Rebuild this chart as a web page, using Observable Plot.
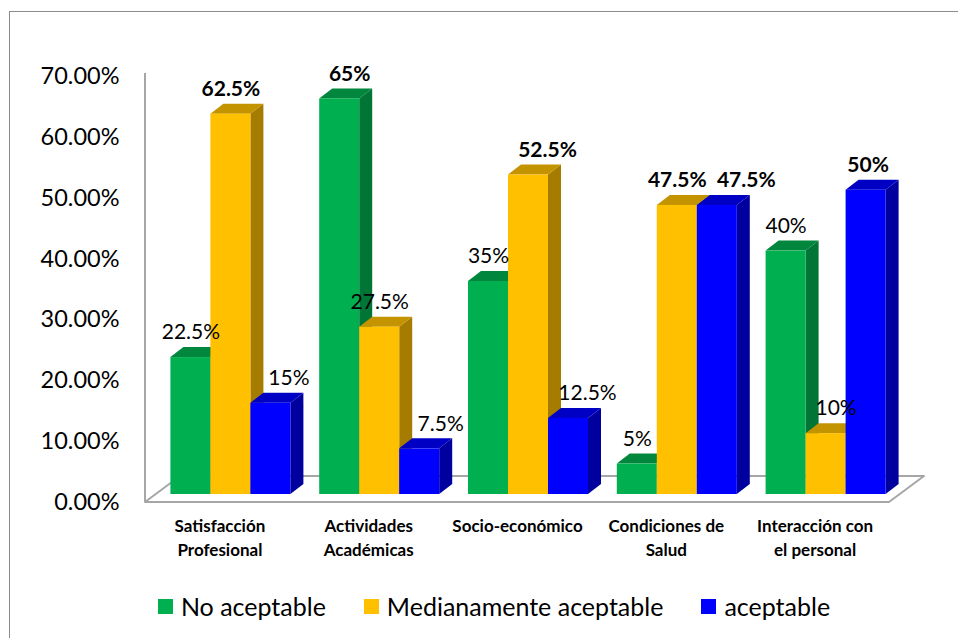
<!DOCTYPE html>
<html>
<head>
<meta charset="utf-8">
<script src="https://cdn.jsdelivr.net/npm/d3@7"></script>
<script src="https://cdn.jsdelivr.net/npm/@observablehq/plot@0.6"></script>
<style>
  html, body { margin: 0; padding: 0; background: #fff; overflow: hidden; }
  #wrap { position: relative; width: 958px; height: 638px; font-family: Lato, "Open Sans", sans-serif; }
  #border { position: absolute; left: 9px; top: 11px; width: 960px; height: 640px;
            border-top: 1px solid #8c8c8c; border-left: 1px solid #8c8c8c; box-sizing: border-box; pointer-events: none; }
  #legend { position: absolute; left: 0; top: 590px; width: 958px; height: 32px;
            display: flex; justify-content: center; align-items: center; padding-left: 30px; box-sizing: border-box;
            font-size: 25px; color: #000; }
  .item { display: flex; align-items: center; margin: 0 19px; }
  .sw { width: 15px; height: 15px; margin-right: 8px; }
</style>
</head>
<body>
<div id="wrap"><div id="border"></div></div>
<script>
// ---- data ----
const categories = ["Satisfacción Profesional", "Actividades Académicas", "Socio-económico", "Condiciones de Salud", "Interacción con el personal"];
const categoryLines = ["Satisfacción\nProfesional", "Actividades\nAcadémicas", "Socio-económico", "Condiciones de\nSalud", "Interacción con\nel personal"];
const series = ["No aceptable", "Medianamente aceptable", "aceptable"];
const noAceptable = [22.5, 65, 35, 5, 40];
const medianamente = [62.5, 27.5, 52.5, 47.5, 10];
const aceptable = [15, 7.5, 12.5, 47.5, 50];
const yTicks = [0, 10, 20, 30, 40, 50, 60, 70];

// ---- style / layout config ----
const frontColors = ["#00B050", "#FFC000", "#0000FF"];
const topColors = ["#00873D", "#C49300", "#0000C4"];
const sideColors = ["#007536", "#A67C00", "#00009E"];
const FRONT_DX = 11, FRONT_DY = -8;   // bars sit in the middle of the floor depth
const DEPTH_DX = 13, DEPTH_DY = -10;  // bar depth
const FLOOR_DX = 35, FLOOR_DY = -26;  // floor depth
// horizontal label nudges (data order: per category, per series) to avoid overlaps
const labelNudge = [0, 0, 18, 10, 0, 21, 0, 19, 19, 0, 0, 29, 0, 10, 2];

const seriesValues = [noAceptable, medianamente, aceptable];
const rows = [];
categories.forEach((c, ci) => {
  const group = seriesValues.map(v => v[ci]);
  const mx = Math.max(...group);
  series.forEach((s, si) => {
    rows.push({cat: c, series: s, si, value: seriesValues[si][ci], bold: seriesValues[si][ci] === mx});
  });
});

function drawFloor(index, scales, values, dims) {
  const g = d3.create("svg:g");
  const x0 = dims.marginLeft, x1 = dims.width - dims.marginRight;
  const y0 = dims.height - dims.marginBottom, yTop = dims.marginTop - 3;
  g.append("path")
    .attr("d", `M${x0},${y0}L${x1},${y0}L${x1 + FLOOR_DX},${y0 + FLOOR_DY}L${x0 + FLOOR_DX},${y0 + FLOOR_DY}Z`)
    .attr("fill", "white").attr("stroke", "#a6a6a6").attr("stroke-width", 2).attr("stroke-linejoin", "round");
  g.append("line").attr("x1", x0).attr("x2", x0).attr("y1", y0).attr("y2", yTop)
    .attr("stroke", "#a6a6a6").attr("stroke-width", 2);
  return g.node();
}

function draw3D(index, scales, values) {
  const g = d3.create("svg:g");
  const bw = scales.x.bandwidth();
  for (const i of index) {
    const si = rows[i].si;
    const x = values.x[i] + FRONT_DX;
    const yt = Math.min(values.y1[i], values.y2[i]) + FRONT_DY;
    const yb = Math.max(values.y1[i], values.y2[i]) + FRONT_DY;
    g.append("path")
      .attr("d", `M${x + bw},${yt}L${x + bw + DEPTH_DX},${yt + DEPTH_DY}L${x + bw + DEPTH_DX},${yb + DEPTH_DY}L${x + bw},${yb}Z`)
      .attr("fill", sideColors[si]);
    g.append("path")
      .attr("d", `M${x},${yt}L${x + bw},${yt}L${x + bw + DEPTH_DX},${yt + DEPTH_DY}L${x + DEPTH_DX},${yt + DEPTH_DY}Z`)
      .attr("fill", topColors[si]);
    g.append("rect").attr("x", x).attr("y", yt).attr("width", bw).attr("height", yb - yt)
      .attr("fill", frontColors[si]);
  }
  return g.node();
}

function nudged(index, scales, values, dims, ctx, next) {
  const X = Float64Array.from(values.x, (v, i) => v + FRONT_DX + labelNudge[i]);
  return next(index, scales, {...values, x: X}, dims, ctx);
}

const labelOpts = {fx: "cat", x: "series", y: "value", text: d => `${d.value}%`,
  dy: FRONT_DY - 25, fontSize: 21, lineAnchor: "middle", fill: "#000", render: nudged};

const plot = Plot.plot({
  width: 958,
  height: 575,
  marginLeft: 145,
  marginRight: 69,
  marginTop: 76,
  marginBottom: 73,
  style: {fontFamily: "Lato, 'Open Sans', sans-serif", background: "white", color: "#000", overflow: "visible"},
  fx: {domain: categories, padding: 0, round: false, axis: null},
  x: {domain: series, paddingInner: 0, paddingOuter: 0.36, round: false, axis: null},
  y: {domain: [0, 70], axis: null},
  marks: [
    Plot.frame({facet: "super", render: drawFloor}),
    // y tick labels drawn in the first facet only, left of its frame
    Plot.text(yTicks, {fx: () => categories[0], y: d => d, text: d => d.toFixed(2) + "%", frameAnchor: "left",
      textAnchor: "end", dx: -26, fontSize: 23.5, fill: "#000"}),
    Plot.barY(rows, {fx: "cat", x: "series", y: "value", render: draw3D}),
    Plot.text(rows, {...labelOpts, filter: d => !d.bold}),
    Plot.text(rows, {...labelOpts, filter: d => d.bold, fontWeight: "bold"}),
    Plot.text(categories, {fx: d => d, text: (d, i) => categoryLines[i], frameAnchor: "bottom",
      lineAnchor: "top", dy: 13, fontSize: 17, fontWeight: "bold", lineHeight: 1.38, fill: "#000"})
  ]
});

const wrap = document.getElementById("wrap");
wrap.insertBefore(plot, wrap.firstChild);

const legend = document.createElement("div");
legend.id = "legend";
series.forEach((s, si) => {
  const it = document.createElement("div");
  it.className = "item";
  const sw = document.createElement("div");
  sw.className = "sw";
  sw.style.background = frontColors[si];
  const t = document.createElement("span");
  t.textContent = s;
  it.appendChild(sw); it.appendChild(t);
  legend.appendChild(it);
});
wrap.appendChild(legend);
</script>
</body>
</html>
